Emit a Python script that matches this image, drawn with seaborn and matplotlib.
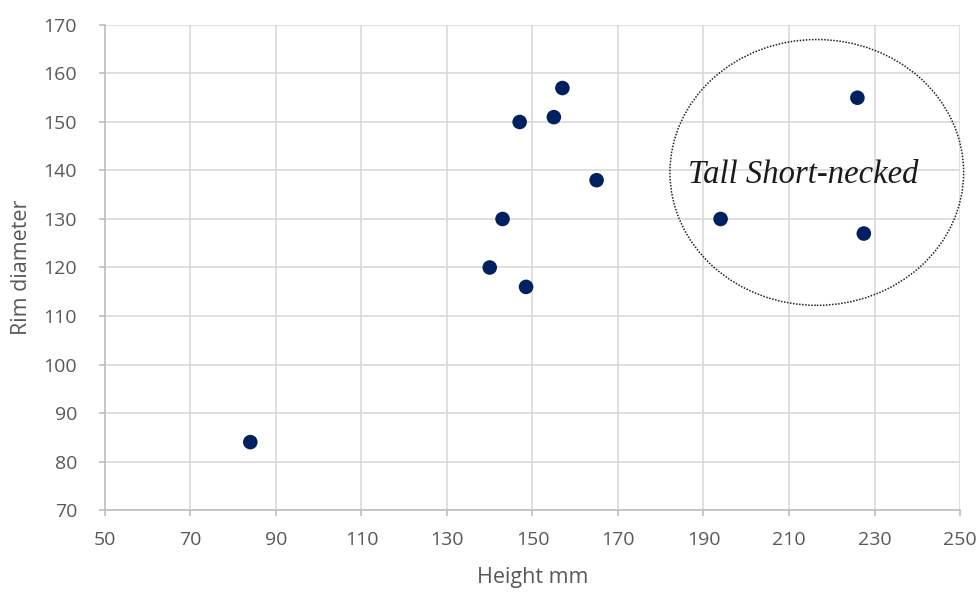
import matplotlib
matplotlib.use("Agg")
import matplotlib.pyplot as plt
from matplotlib.patches import Ellipse
import seaborn as sns
import pandas as pd

height_mm = [84, 140, 143, 148.5, 147, 155, 157, 165, 194, 226, 227.5]
rim_diameter = [84, 120, 130, 116, 150, 151, 157, 138, 130, 155, 127]
x_ticks = [50, 70, 90, 110, 130, 150, 170, 190, 210, 230, 250]
y_ticks = [70, 80, 90, 100, 110, 120, 130, 140, 150, 160, 170]
annotation = "Tall Short-necked"

df = pd.DataFrame({"Height mm": height_mm, "Rim diameter": rim_diameter})

sns.set_theme(style="white")
plt.rcParams['font.family'] = ['Open Sans', 'DejaVu Sans']

fig = plt.figure(figsize=(9.79, 5.92), dpi=100)
ax = fig.add_axes([0.1072, 0.1385, 0.8734, 0.8193])

grid_c = "#d9d9d9"
text_c = "#595959"

sns.scatterplot(data=df, x="Height mm", y="Rim diameter", ax=ax,
                color="#002060", s=110, edgecolor="none", zorder=3)

ax.set_xlim(50, 250)
ax.set_ylim(70, 170)
ax.set_xticks(x_ticks)
ax.set_yticks(y_ticks)
ax.grid(True, color=grid_c, linewidth=1.2)
ax.set_axisbelow(True)
for s in ["top", "right"]:
    ax.spines[s].set_visible(False)
for s in ["left", "bottom"]:
    ax.spines[s].set_color("#bfbfbf")
    ax.spines[s].set_linewidth(1.2)
ax.tick_params(axis="both", colors=text_c, labelsize=14, length=4,
               width=1.2, direction="out", color="#bfbfbf")
ax.tick_params(axis="x", bottom=True, pad=11)
ax.tick_params(axis="y", left=True, pad=16)
ax.set_xlabel("Height mm", color=text_c, fontsize=15.5, labelpad=13)
ax.set_ylabel("Rim diameter", color=text_c, fontsize=15.5, labelpad=8)

ell = Ellipse((216.5, 139.6), 68.7, 54.8, fill=False, edgecolor="#222222",
              linestyle=(0, (1, 1)), linewidth=1.1, zorder=2, clip_on=False)
ax.add_patch(ell)
ax.text(213.4, 139.1, annotation, ha="center", va="center", fontsize=23.5,
        style="italic", family=["Liberation Serif", "DejaVu Serif"], color="#1a1a1a",
        zorder=4)

fig.savefig("out.png", dpi=100)
